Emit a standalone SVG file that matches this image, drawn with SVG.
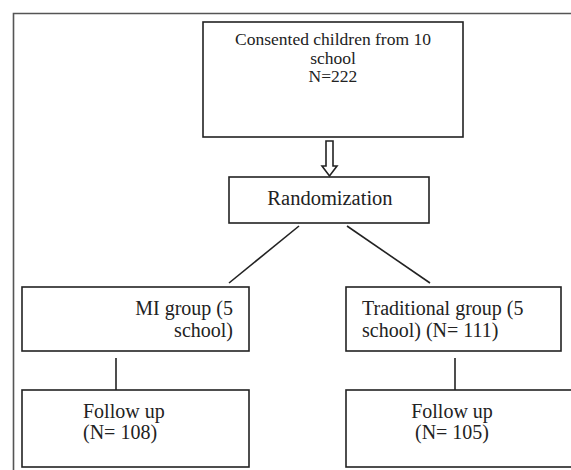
<svg xmlns="http://www.w3.org/2000/svg" width="571" height="470" viewBox="0 0 571 470">
<style>
.box{fill:#fff;stroke:#222;stroke-width:1.6}
.t{font-family:"Liberation Serif","Times New Roman",serif;font-size:20px;fill:#222}
.s{font-size:17.5px}
.c{text-anchor:middle}
.ln{stroke:#222;stroke-width:1.6;fill:none}
</style>
<rect width="571" height="470" fill="#fff"/>
<path d="M13.5 470 V13.5 H571" fill="none" stroke="#555" stroke-width="1.6"/>
<g id="consented">
<rect class="box" x="203" y="22" width="260" height="115"/>
<text class="t s c" x="333" y="45">Consented children from 10</text>
<text class="t s c" x="333" y="63.5">school</text>
<text class="t s c" x="333" y="82">N=222</text>
</g>
<g id="randomization">
<rect class="box" x="229" y="177" width="200" height="46"/>
<text class="t c" x="330" y="205" style="font-size:20.5px">Randomization</text>
</g>
<g id="mi">
<rect class="box" x="22" y="287" width="227" height="64"/>
<text class="t" x="233" y="315" text-anchor="end">MI group (5</text>
<text class="t" x="233" y="337" text-anchor="end">school)</text>
</g>
<g id="traditional">
<rect class="box" x="346" y="287" width="215" height="64"/>
<text class="t" x="362" y="315">Traditional group (5</text>
<text class="t" x="362" y="337">school) (N= 111)</text>
</g>
<g id="followup-mi">
<rect class="box" x="22" y="390" width="227" height="77"/>
<text class="t" x="83" y="418">Follow up</text>
<text class="t" x="83" y="439">(N= 108)</text>
</g>
<g id="followup-trad">
<rect class="box" x="346" y="390" width="240" height="77"/>
<text class="t c" x="452" y="418">Follow up</text>
<text class="t c" x="452" y="439">(N= 105)</text>
</g>
<g id="connectors">
<path class="ln" d="M326 141 H333 V166 H337 L329.5 176 L322 166 H326 Z"/>
<line class="ln" x1="299" y1="226" x2="229" y2="283"/>
<line class="ln" x1="347" y1="226" x2="430" y2="283"/>
<line class="ln" x1="116" y1="358" x2="116" y2="390"/>
<line class="ln" x1="455" y1="358" x2="455" y2="390"/>
</g>
</svg>
